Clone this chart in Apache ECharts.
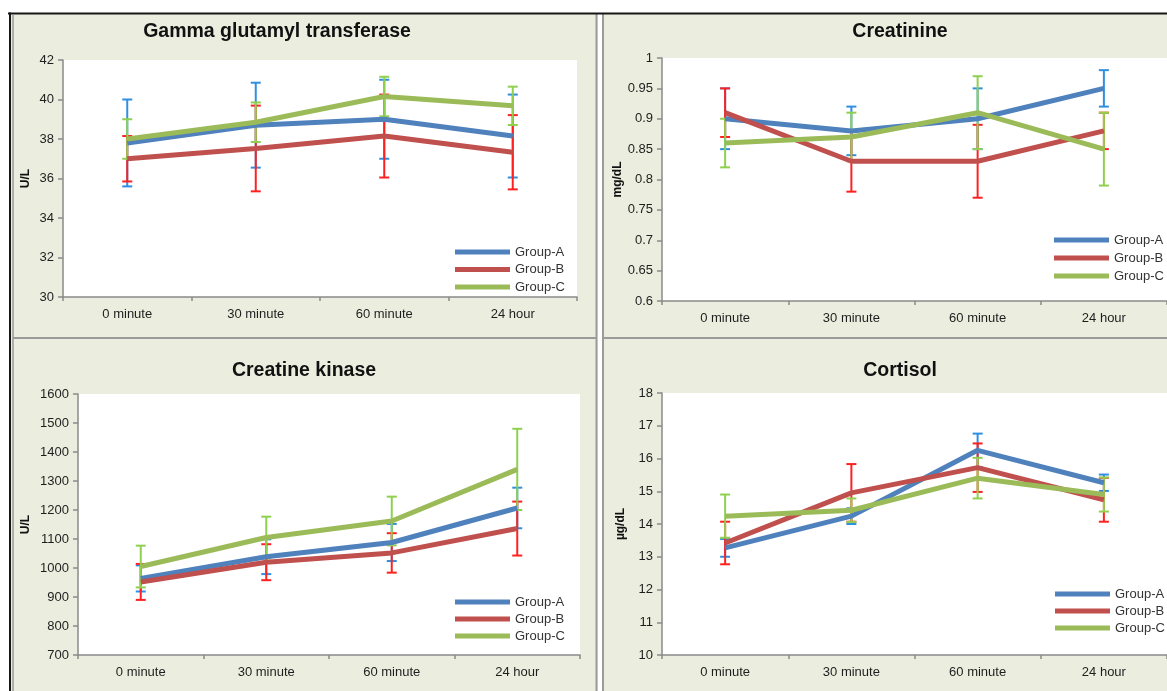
<!DOCTYPE html>
<html>
<head>
<meta charset="utf-8">
<script src="https://cdn.jsdelivr.net/npm/echarts@6/dist/echarts.min.js"></script>
<style>
  html, body { margin: 0; padding: 0; background: #ffffff; }
  #chart { width: 1167px; height: 691px; }
</style>
</head>
<body>
<div id="chart"></div>
<script>
// Time points and groups shared by all four panels
const categories = ['0 minute', '30 minute', '60 minute', '24 hour'];
const groups = ['Group-A', 'Group-B', 'Group-C'];

// Gamma glutamyl transferase (U/L): group means and error half-widths
const ggtA = [37.8, 38.7, 39.0, 38.15];
const ggtAErr = [2.2, 2.15, 2.0, 2.1];
const ggtB = [37.0, 37.52, 38.15, 37.33];
const ggtBErr = [1.15, 2.17, 2.1, 1.88];
const ggtC = [38.0, 38.85, 40.15, 39.68];
const ggtCErr = [1.0, 1.0, 1.0, 0.97];
const ggtAxis = [30, 42, 2];

// Creatinine (mg/dL)
const creA = [0.90, 0.88, 0.90, 0.95];
const creAErr = [0.05, 0.04, 0.05, 0.03];
const creB = [0.91, 0.83, 0.83, 0.88];
const creBErr = [0.04, 0.05, 0.06, 0.03];
const creC = [0.86, 0.87, 0.91, 0.85];
const creCErr = [0.04, 0.04, 0.06, 0.06];
const creAxis = [0.6, 1, 0.05];

// Creatine kinase (U/L)
const ckA = [964, 1039, 1088, 1207];
const ckAErr = [45, 60, 64, 70];
const ckB = [952, 1020, 1052, 1136];
const ckBErr = [62, 62, 68, 93];
const ckC = [1005, 1105, 1162, 1340];
const ckCErr = [72, 72, 84, 140];
const ckAxis = [700, 1600, 100];

// Cortisol (µg/dL)
const corA = [13.27, 14.24, 16.25, 15.26];
const corAErr = [0.27, 0.24, 0.51, 0.25];
const corB = [13.42, 14.95, 15.72, 14.74];
const corBErr = [0.65, 0.88, 0.74, 0.67];
const corC = [14.24, 14.42, 15.4, 14.9];
const corCErr = [0.66, 0.36, 0.62, 0.52];
const corAxis = [10, 18, 1];

const FONT = "'Liberation Sans', Arial, sans-serif";
const lineColors = ['#4f81bd', '#c0504d', '#9bbb59'];
const errColors = ['#2f8fe0', '#ff2020', '#8fd14f'];

const panels = [
  { title: 'Gamma glutamyl transferase', unit: 'U/L', axis: ggtAxis,
    means: [ggtA, ggtB, ggtC], errs: [ggtAErr, ggtBErr, ggtCErr],
    grid: { left: 63, top: 60, width: 514, height: 237 }, titleAt: [277, 32], nameGap: 31,
    legend: { left: 455, top: 244, gap: 1.5 } },
  { title: 'Creatinine', unit: 'mg/dL', axis: creAxis,
    means: [creA, creB, creC], errs: [creAErr, creBErr, creCErr],
    grid: { left: 662, top: 58, width: 516, height: 243 }, titleAt: [900, 32], nameGap: 38,
    legend: { left: 1054, top: 232, gap: 2 } },
  { title: 'Creatine kinase', unit: 'U/L', axis: ckAxis,
    means: [ckA, ckB, ckC], errs: [ckAErr, ckBErr, ckCErr],
    grid: { left: 78, top: 394, width: 502, height: 261 }, titleAt: [304, 371], nameGap: 46,
    legend: { left: 455, top: 594, gap: 1 } },
  { title: 'Cortisol', unit: 'µg/dL', axis: corAxis,
    means: [corA, corB, corC], errs: [corAErr, corBErr, corCErr],
    grid: { left: 662, top: 393, width: 512, height: 262 }, titleAt: [900, 371], nameGap: 35,
    legend: { left: 1055, top: 586, gap: 1 } }
];

// Vertical error bar with caps, drawn in data coordinates
function errorBar(color) {
  return function (params, api) {
    const x = api.value(0), m = api.value(1), e = api.value(2);
    const hi = api.coord([x, m + e]);
    const lo = api.coord([x, m - e]);
    const cx = hi[0], w = 5;
    const style = { stroke: color, lineWidth: 2 };
    return {
      type: 'group',
      children: [
        { type: 'line', shape: { x1: cx, y1: hi[1], x2: cx, y2: lo[1] }, style: style },
        { type: 'line', shape: { x1: cx - w, y1: hi[1], x2: cx + w, y2: hi[1] }, style: style },
        { type: 'line', shape: { x1: cx - w, y1: lo[1], x2: cx + w, y2: lo[1] }, style: style }
      ]
    };
  };
}

const axisLineStyle = { color: '#8a8a8a', width: 1.5 };
const grids = [], xAxes = [], yAxes = [], legends = [], series = [], graphics = [];

// Panel backdrop and frame
graphics.push({ type: 'rect', z: -10, shape: { x: 11, y: 14, width: 1156, height: 677 }, style: { fill: '#ebeedf' } });
graphics.push({ type: 'rect', z: 10, shape: { x: 598, y: 14, width: 4, height: 677 }, style: { fill: '#ffffff' } });
graphics.push({ type: 'line', z: 10, shape: { x1: 596.5, y1: 14, x2: 596.5, y2: 691 }, style: { stroke: '#9b9b9b', lineWidth: 2 } });
graphics.push({ type: 'line', z: 10, shape: { x1: 603, y1: 14, x2: 603, y2: 691 }, style: { stroke: '#9b9b9b', lineWidth: 2 } });
graphics.push({ type: 'line', z: 10, shape: { x1: 13, y1: 338, x2: 596, y2: 338 }, style: { stroke: '#9b9b9b', lineWidth: 2 } });
graphics.push({ type: 'line', z: 10, shape: { x1: 603, y1: 338, x2: 1167, y2: 338 }, style: { stroke: '#9b9b9b', lineWidth: 2 } });
graphics.push({ type: 'line', z: 10, shape: { x1: 13, y1: 15, x2: 13, y2: 691 }, style: { stroke: '#9a9a9a', lineWidth: 1.5 } });
graphics.push({ type: 'line', z: 11, shape: { x1: 8, y1: 13.5, x2: 1167, y2: 13.5 }, style: { stroke: '#161616', lineWidth: 2 } });
graphics.push({ type: 'line', z: 11, shape: { x1: 10, y1: 12.5, x2: 10, y2: 691 }, style: { stroke: '#161616', lineWidth: 2 } });

panels.forEach(function (p, i) {
  grids.push(Object.assign({ show: true, backgroundColor: '#ffffff', borderWidth: 0 }, p.grid));

  xAxes.push({
    type: 'category', gridIndex: i, data: categories, boundaryGap: true,
    axisLine: { lineStyle: axisLineStyle },
    axisTick: { show: true, length: 4, alignWithLabel: false, lineStyle: axisLineStyle },
    axisLabel: { fontSize: 13, color: '#1e1e1e', margin: 11, fontFamily: FONT },
    splitLine: { show: false }
  });

  yAxes.push({
    type: 'value', gridIndex: i, min: p.axis[0], max: p.axis[1], interval: p.axis[2],
    axisLine: { show: true, lineStyle: axisLineStyle },
    axisTick: { show: true, length: 5, lineStyle: axisLineStyle },
    axisLabel: { fontSize: 13, color: '#1e1e1e', margin: 9, fontFamily: FONT,
                 formatter: function (v) { return String(+v.toFixed(2)); } },
    splitLine: { show: false },
    name: p.unit, nameLocation: 'middle', nameRotate: 90, nameGap: p.nameGap,
    nameTextStyle: { fontSize: 12, fontWeight: 'bold', color: '#111111', fontFamily: FONT }
  });

  legends.push({
    data: groups, orient: 'vertical', left: p.legend.left, top: p.legend.top,
    padding: 0, itemGap: p.legend.gap, itemWidth: 55, itemHeight: 5, icon: 'rect',
    selectedMode: false,
    textStyle: { fontSize: 13, color: '#333333', fontFamily: FONT, lineHeight: 16 }
  });

  graphics.push({
    type: 'text', z: 5, x: p.titleAt[0], y: p.titleAt[1],
    style: { text: p.title, font: 'bold 19.5px ' + FONT, fill: '#111111',
             align: 'center', verticalAlign: 'middle', textAlign: 'center', textVerticalAlign: 'middle' }
  });

  groups.forEach(function (g, k) {
    series.push({
      type: 'line', name: g, xAxisIndex: i, yAxisIndex: i, data: p.means[k],
      symbol: 'none', showSymbol: false, animation: false,
      lineStyle: { width: 5, color: lineColors[k] }, itemStyle: { color: lineColors[k] }
    });
    series.push({
      type: 'custom', id: 'err-' + i + '-' + k, xAxisIndex: i, yAxisIndex: i,
      data: p.means[k].map(function (m, j) { return [j, m, p.errs[k][j]]; }),
      encode: { x: 0, y: 1 }, renderItem: errorBar(errColors[k]), animation: false, silent: true
    });
  });
});

const chart = echarts.init(document.getElementById('chart'), null, { renderer: 'canvas' });
chart.setOption({
  backgroundColor: '#ffffff',
  animation: false,
  textStyle: { fontFamily: FONT },
  grid: grids, xAxis: xAxes, yAxis: yAxes, legend: legends,
  series: series, graphic: graphics
});
</script>
</body>
</html>
